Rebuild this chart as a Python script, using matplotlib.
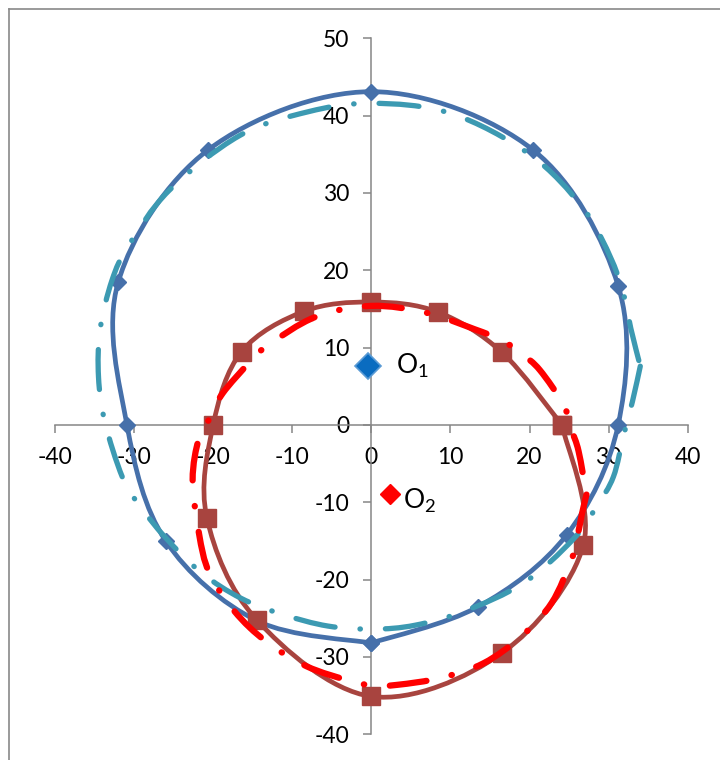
import numpy as np
import matplotlib
matplotlib.use("Agg")
import matplotlib.pyplot as plt
from matplotlib.path import Path
from matplotlib.patches import PathPatch
from matplotlib.lines import Line2D

plt.rcParams['font.family'] = ['Lato', 'DejaVu Sans']
plt.rcParams['axes.unicode_minus'] = False
plt.rcParams['lines.scale_dashes'] = False

# series 1 - blue, diamonds
blue_x = [0, 13.5, 24.7, 31.2, 31.2, 20.4, 0, -20.6, -32.0, -30.9, -26.0, -14.5, 0]
blue_y = [-28.2, -23.5, -14.2, 0, 18.0, 35.6, 43.1, 35.6, 18.5, 0, -15.0, -25.3, -28.2]

# series 2 - brown, squares
brown_x = [24.1, 26.8, 16.5, 0, -14.5, -20.8, -20.0, -16.4, -8.5, 0, 8.4, 16.5, 24.1]
brown_y = [0, -15.5, -29.5, -35.1, -25.2, -12.0, 0, 9.5, 14.7, 15.9, 14.6, 9.4, 0]

# series 3 - cyan dash-dot
cyan_x = [34.0, 33.0, 31.9, 30.6, 28.5, 25.5, 19.3, 11.7, 5.5, 0.2, -5.5, -11.2, -16.5,
          -21.5, -26.0, -29.4, -31.5, -33.7, -34.5, -34.3, -32.8, -30.7, -25.6, -16.7,
          -8.0, 0.0, 10.0, 20.0, 26.8, 30.4, 32.1, 32.8, 34.0]
cyan_y = [7.6, 3.0, -1.3, -6.7, -10.5, -14.8, -20.4, -24.1, -25.9, -26.4, -26.0, -24.5, -22.4,
          -19.1, -14.6, -10.3, -6.7, 0.4, 6.2, 12.3, 18.7, 23.2, 30.3, 37.4,
          40.5, 41.6, 40.3, 35.0, 28.0, 21.3, 16.1, 12.5, 7.6]

# series 4 - red dash-dot
red_x = [27.2, 26.6, 26.0, 25.3, 22.8, 19.0, 14.2, 8.8, 3.3, 0.2, -2.7, -8.2, -13.3, -17.3,
         -20.5, -21.8, -22.6, -21.8, -20.3, -18.8, -15.4, -13.1, -7.0, 0.0, 7.0, 13.0,
         16.4, 19.0, 21.3, 24.3, 25.3, 26.2, 27.2]
red_y = [-9.0, -11.6, -14.7, -17.4, -23.0, -27.3, -30.8, -32.7, -33.6, -33.7, -33.1, -31.2,
         -28.0, -24.1, -19.1, -14.0, -7.1, -1.7, 1.1, 4.1, 8.1, 10.3, 14.0, 15.4, 14.5, 12.4,
         11.0, 9.2, 7.1, 2.6, -0.6, -3.4, -9.0]

centres_x = [-0.4, 2.4]
centres_y = [7.6, -8.9]
centre_labels = [r'O$_{\mathregular{1}}$', r'O$_{\mathregular{2}}$']


def smooth(xs, ys):
    # excel-like smoothed line: cubic bezier through the points
    p = np.column_stack([xs, ys]).astype(float)
    n = len(p)
    verts = [p[0]]
    codes = [Path.MOVETO]
    for i in range(n - 1):
        p0 = p[max(i - 1, 0)]
        p1 = p[i]
        p2 = p[i + 1]
        p3 = p[min(i + 2, n - 1)]
        verts += [p1 + (p2 - p0) / 6, p2 - (p3 - p1) / 6, p2]
        codes += [Path.CURVE4] * 3
    return Path(verts, codes)


fig = plt.figure(figsize=(7.2, 7.6), dpi=100)
ax = fig.add_axes([0.0764, 0.0338, 0.8788, 0.9158])

blue_c = '#4670AA'
brown_c = '#A8443F'
cyan_c = '#3C9AB2'

ax.add_patch(PathPatch(smooth(blue_x, blue_y), fill=False, edgecolor=blue_c, lw=3.4,
                       capstyle='round', joinstyle='round', zorder=3))
ax.plot(blue_x, blue_y, 'D', color=blue_c, ms=8.5, zorder=3)

ax.add_patch(PathPatch(smooth(brown_x, brown_y), fill=False, edgecolor=brown_c, lw=3.4,
                       capstyle='round', joinstyle='round', zorder=4))
ax.plot(brown_x, brown_y, 's', color=brown_c, ms=13.5, zorder=4)

ax.add_patch(PathPatch(smooth(cyan_x, cyan_y), fill=False, edgecolor=cyan_c, lw=3.8,
                       linestyle=(0, (28.8, 18, 0.3, 18)), capstyle='round', zorder=5))
ax.add_patch(PathPatch(smooth(red_x, red_y), fill=False, edgecolor='#FF0000', lw=4.5,
                       linestyle=(0, (26.6, 18.5, 0.3, 18.5)), capstyle='round', zorder=6))

ax.plot(centres_x[0], centres_y[0], 'D', ms=13.5, color='#0A6CC0', mec='#5B9BD5', mew=1.2, zorder=7)
ax.plot(centres_x[1], centres_y[1], 'D', ms=10, color='#FF0000', zorder=7)
ax.text(3.1, 7.7, centre_labels[0], fontsize=19, va='center', ha='left', zorder=8)
ax.text(4.0, -9.8, centre_labels[1], fontsize=19, va='center', ha='left', zorder=8)

ax.set_xlim(-40, 40)
ax.set_ylim(-40, 50)
ax.set_xticks(np.arange(-40, 41, 10))
ax.set_yticks(np.arange(-40, 51, 10))
ax.spines['left'].set_position(('data', 0))
ax.spines['bottom'].set_position(('data', 0))
ax.spines['top'].set_visible(False)
ax.spines['right'].set_visible(False)
for s in ['left', 'bottom']:
    ax.spines[s].set_color('#868686')
    ax.spines[s].set_linewidth(1.1)
ax.tick_params(direction='out', length=5.8, width=1.1, color='#868686',
               labelsize=16.5, pad=10)
ax.patch.set_visible(False)

# chart border
fig.add_artist(Line2D([8.5 / 720, 8.5 / 720], [0, 1 - 9 / 760], transform=fig.transFigure,
                      color='#898989', lw=1.2))
fig.add_artist(Line2D([8.5 / 720, 1], [1 - 9 / 760, 1 - 9 / 760], transform=fig.transFigure,
                      color='#898989', lw=1.2))

plt.savefig('out.png', dpi=100)
